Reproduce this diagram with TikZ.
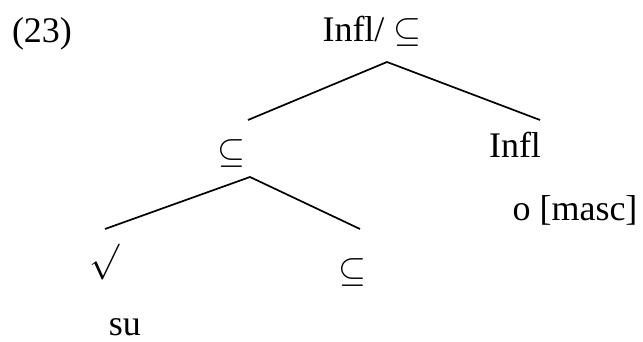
\RequirePackage{fix-cm}
\documentclass[tikz,border=0pt]{standalone}
\usepackage{fontspec}
\setmainfont{Liberation Serif}
\usepackage{amsmath}

\begin{document}
\begin{tikzpicture}[x=1pt,y=-1pt,
        label/.style={inner sep=0pt,font=\fontsize{36}{43}\selectfont},
        branch/.style={line width=1.7pt}]

        \useasboundingbox (0,0) rectangle (643,342);

        % Example number
        \node[label,anchor=base] (num) at (42,43) {(23)};

        % Labels of the tree
        \node[label,anchor=base] (root) at (372,42) {Infl/ $\subseteq$};
        \node[label] (cat) at (231,154) {$\subseteq$};
        \node[label,anchor=base] (infl) at (515,158) {Infl};
        \node[label,anchor=base] (masc) at (575,220) {o [masc]};
        \node[label] (root2) at (104,262) {$\surd$};
        \node[label] (cat2) at (352,272) {$\subseteq$};
        \node[label,anchor=base] (su) at (125,335) {su};

        % Ends of the branches
        \coordinate (top) at (387,62);
        \coordinate (topL) at (248,120);
        \coordinate (topR) at (540,120);
        \coordinate (mid) at (250,177);
        \coordinate (midL) at (105,229);
        \coordinate (midR) at (360,229);

        % Draw branches
        \draw[branch] (topL) -- (top) -- (topR);
        \draw[branch] (midL) -- (mid) -- (midR);

\end{tikzpicture}
\end{document}
